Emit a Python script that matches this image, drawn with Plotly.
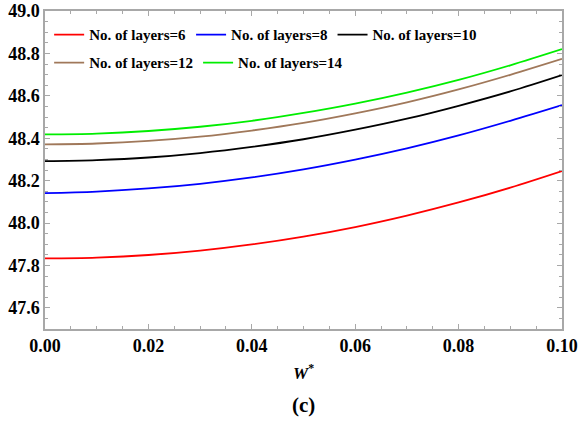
import plotly.graph_objects as go

w_star = [0.00, 0.01, 0.02, 0.03, 0.04, 0.05, 0.06, 0.07, 0.08, 0.09, 0.10]
layers6 = [47.833, 47.837, 47.849, 47.870, 47.899, 47.936, 47.981, 48.035, 48.097, 48.167, 48.245]
layers8 = [48.141, 48.148, 48.163, 48.185, 48.215, 48.253, 48.299, 48.352, 48.413, 48.482, 48.556]
layers10 = [48.292, 48.297, 48.309, 48.330, 48.359, 48.395, 48.440, 48.492, 48.553, 48.621, 48.698]
layers12 = [48.371, 48.375, 48.387, 48.407, 48.436, 48.472, 48.517, 48.569, 48.630, 48.699, 48.774]
layers14 = [48.418, 48.422, 48.434, 48.454, 48.482, 48.519, 48.563, 48.615, 48.675, 48.744, 48.820]

series = [
    ("No. of layers=6", layers6, "#ff0000", "legend"),
    ("No. of layers=8", layers8, "#0000ff", "legend"),
    ("No. of layers=10", layers10, "#000000", "legend"),
    ("No. of layers=12", layers12, "#a0785a", "legend2"),
    ("No. of layers=14", layers14, "#00ee00", "legend2"),
]

x_ticks = [0.00, 0.02, 0.04, 0.06, 0.08, 0.10]
x_ticklabels = ["0.00", "0.02", "0.04", "0.06", "0.08", "0.10"]
y_ticks = [47.6, 47.8, 48.0, 48.2, 48.4, 48.6, 48.8, 49.0]
y_ticklabels = ["47.6", "47.8", "48.0", "48.2", "48.4", "48.6", "48.8", "49.0"]

fig = go.Figure()
for name, vals, color, lg in series:
    fig.add_trace(go.Scatter(x=w_star, y=vals, mode="lines", name="<b>" + name + "</b>",
                             line=dict(color=color, width=1.8, shape="spline"),
                             legend=lg))

FONT = "Liberation Serif"
frame = "#a8a8a8"
legend_common = dict(orientation="h", xanchor="left", yanchor="middle",
                     bgcolor="rgba(0,0,0,0)", borderwidth=0,
                     font=dict(family=FONT, size=15, color="black"),
                     itemwidth=30, tracegroupgap=0)

fig.update_layout(
    width=580, height=422,
    margin=dict(l=45, r=18, t=11, b=93),
    paper_bgcolor="white", plot_bgcolor="white",
    font=dict(family=FONT, color="black"),
    showlegend=True,
    legend=dict(x=0.008, y=0.925, **legend_common),
    legend2=dict(x=0.008, y=0.837, **legend_common),
    xaxis=dict(range=[0, 0.1], tickvals=x_ticks,
               ticktext=["<b>" + t + "</b>" for t in x_ticklabels],
               automargin=False,
               showgrid=False, zeroline=False,
               showline=True, linecolor=frame, linewidth=1.5, mirror="allticks",
               ticks="inside", ticklen=5, tickcolor=frame, tickwidth=1,
               minor=dict(dtick=0.005, tick0=0, ticks="inside", ticklen=3, tickcolor=frame, showgrid=False),
               tickfont=dict(family=FONT, size=18, color="black")),
    yaxis=dict(range=[47.5, 49.0], tickvals=y_ticks,
               ticktext=["<b>" + t + "</b>" for t in y_ticklabels],
               automargin=False,
               showgrid=False, zeroline=False,
               showline=True, linecolor=frame, linewidth=1.5, mirror="allticks",
               ticks="inside", ticklen=5, tickcolor=frame, tickwidth=1,
               minor=dict(dtick=0.05, tick0=47.5, ticks="inside", ticklen=3, tickcolor=frame, showgrid=False),
               tickfont=dict(family=FONT, size=18, color="black")),
    annotations=[
        dict(text="<b><i>W</i><sup>*</sup></b>", x=0.5, y=-0.135, xref="paper", yref="paper",
             xanchor="center", yanchor="middle", showarrow=False,
             font=dict(family=FONT, size=17, color="black")),
        dict(text="<b>(c)</b>", x=0.5, y=-0.24, xref="paper", yref="paper",
             xanchor="center", yanchor="middle", showarrow=False,
             font=dict(family=FONT, size=21, color="black")),
    ],
)

fig.write_html("out.html")
